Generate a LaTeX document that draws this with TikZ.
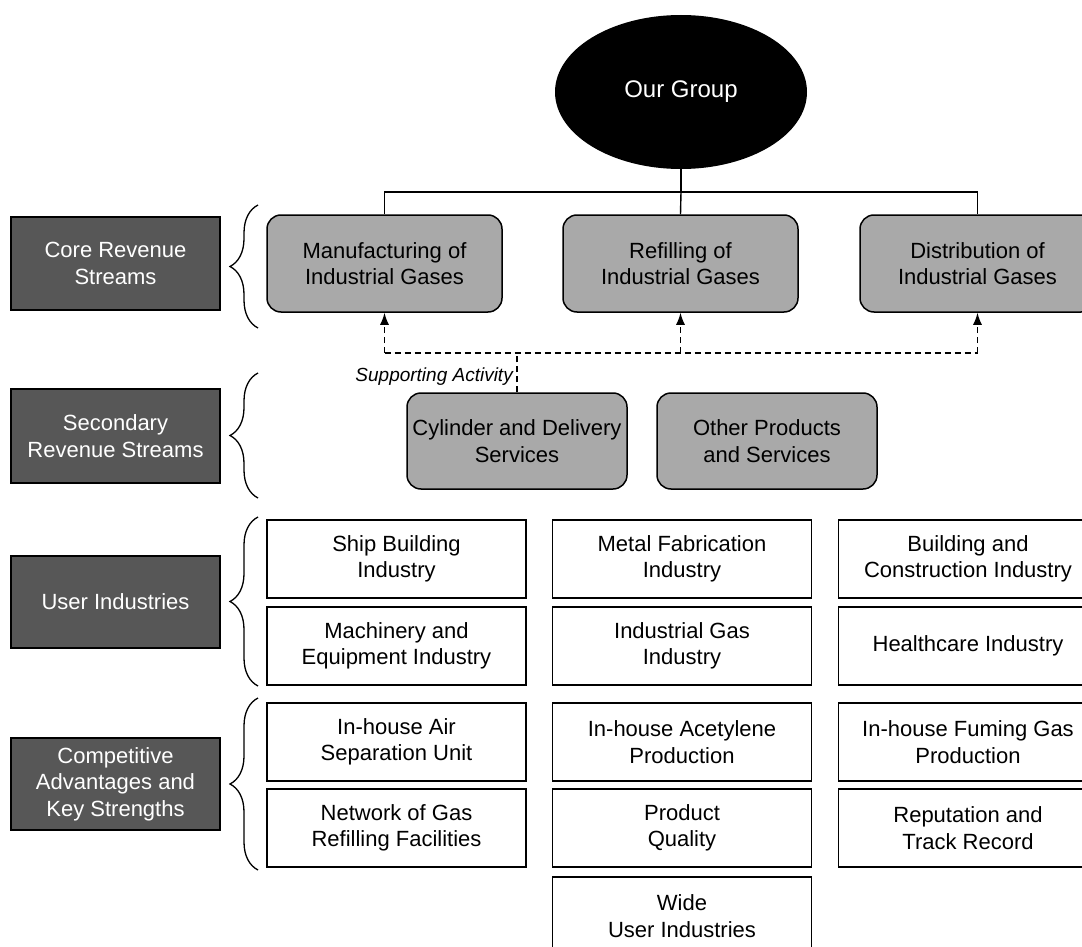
\documentclass[tikz,border=0pt]{standalone}
\usepackage{fontspec}
\setmainfont{Liberation Sans}
\usetikzlibrary{shapes.geometric,arrows.meta,decorations.pathreplacing}
\definecolor{panelgray}{HTML}{A9A9A9}
\definecolor{labelgray}{HTML}{575757}
\begin{document}
\begin{tikzpicture}[x=1pt,y=-1pt,
  every node/.style={font=\fontsize{22}{26.5}\selectfont, align=center, inner sep=0pt},
  revbox/.style={draw, line width=1.5pt, rounded corners=14pt, fill=panelgray, minimum height=97pt},
  tagbox/.style={draw, line width=1.2pt, fill=labelgray, text=white, minimum width=209pt},
  infobox/.style={draw, line width=1.4pt, fill=white, minimum width=259pt, minimum height=78pt},
  grp/.style={ellipse, fill=black, text=white, minimum width=252pt, minimum height=154pt, font=\fontsize{24}{28}\selectfont},
  bus/.style={line width=1.4pt},
  supline/.style={line width=1.4pt, dash pattern=on 6pt off 4pt},
  support/.style={supline, -{Latex[length=12pt,width=9pt]}},
  groupbrace/.style={decorate, decoration={brace, amplitude=28pt, aspect=0.5}, line width=1.3pt}
]
\useasboundingbox (0,0) rectangle (1082,947);
\clip (0,0) rectangle (1082,947);

% top of the hierarchy
\node[grp] (g) at (681,92) {Our Group};

% core revenue streams
\node[revbox, minimum width=235pt] (m) at (384.5,263.5) {Manufacturing of\\Industrial Gases};
\node[revbox, minimum width=235pt] (r) at (680.5,263.5) {Refilling of\\Industrial Gases};
\node[revbox, minimum width=235pt] (d) at (977.5,263.5) {Distribution of\\Industrial Gases};

% secondary revenue streams
\node[revbox, minimum width=220pt, minimum height=96pt] (c) at (517,441) {Cylinder and Delivery\\Services};
\node[revbox, minimum width=220pt, minimum height=96pt] (o) at (767,441) {Other Products\\and Services};

% row labels
\node[tagbox, minimum height=93pt] (t1) at (115.5,263.5) {Core Revenue\\Streams};
\node[tagbox, minimum height=94pt] (t2) at (115.5,436) {Secondary\\Revenue Streams};
\node[tagbox, minimum height=92pt] (t3) at (115.5,602) {User Industries};
\node[tagbox, minimum height=92pt] (t4) at (115.5,784) {Competitive\\Advantages and\\Key Strengths};

% user industries
\node[infobox] (u1) at (396.5,559) {Ship Building\\Industry};
\node[infobox] (u2) at (682,559) {Metal Fabrication\\Industry};
\node[infobox] (u3) at (968,559) {Building and\\Construction Industry};
\node[infobox] (u4) at (396.5,646) {Machinery and\\Equipment Industry};
\node[infobox] (u5) at (682,646) {Industrial Gas\\Industry};
\node[infobox] (u6) at (968,646) {Healthcare Industry};

% competitive advantages
\node[infobox] (k1) at (396.5,742) {In-house Air\\Separation Unit};
\node[infobox] (k2) at (682,742) {In-house Acetylene\\Production};
\node[infobox] (k3) at (968,742) {In-house Fuming Gas\\Production};
\node[infobox] (k4) at (396.5,828) {Network of Gas\\Refilling Facilities};
\node[infobox] (k5) at (682,828) {Product\\Quality};
\node[infobox] (k6) at (968,828) {Reputation and\\Track Record};
\node[infobox] (k7) at (682,916) {Wide\\User Industries};

% group to core streams
\coordinate (hub) at (681,192);
\draw[bus] (g.south) -- (hub);
\draw[bus] (m.north) |- (hub) -| (d.north);
\draw[bus] (hub) -- (r.north);

% supporting activity feeding the core streams
\coordinate (sup) at (517,353);
\draw[supline] (c.north) -- (sup);
\draw[supline] (m.south |- sup) -- (d.south |- sup);
\draw[support] (m.south |- sup) -- (m.south);
\draw[support] (r.south |- sup) -- (r.south);
\draw[support] (d.south |- sup) -- (d.south);
\node[anchor=east, font=\fontsize{19}{22}\selectfont\itshape] (sa) at (513,377) {Supporting Activity};

% braces grouping each row
\draw[groupbrace] (258,328) -- (258,205);
\draw[groupbrace] (258,498) -- (258,373);
\draw[groupbrace] (258,686) -- (258,517);
\draw[groupbrace] (258,870) -- (258,698);
\end{tikzpicture}
\end{document}
